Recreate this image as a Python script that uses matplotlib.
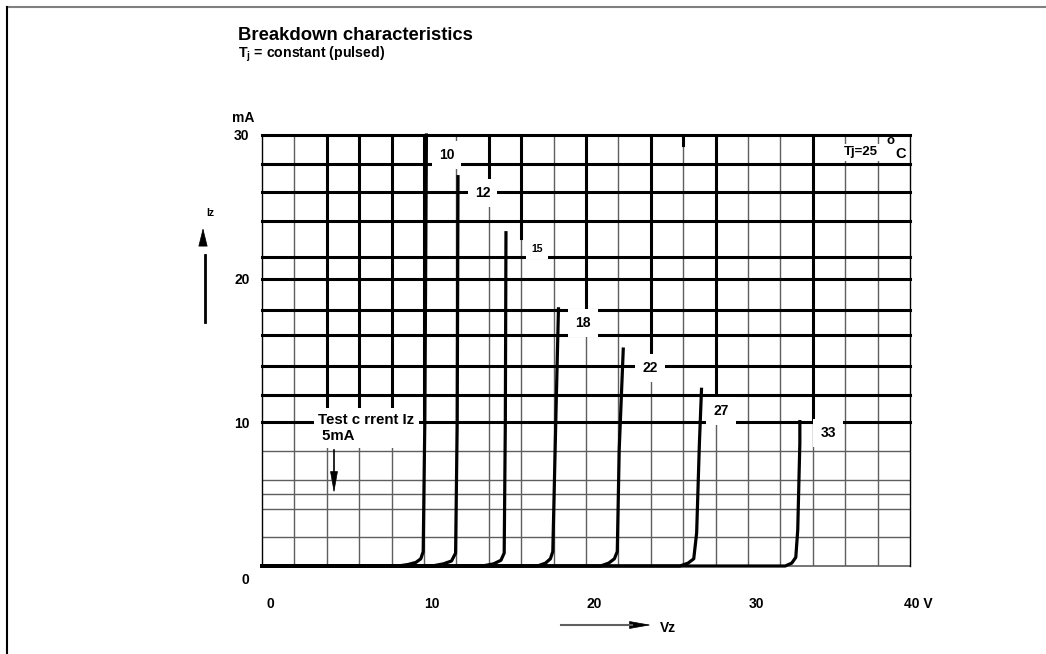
import matplotlib
matplotlib.use("Agg")
import matplotlib.pyplot as plt
from matplotlib.transforms import ScaledTranslation
from matplotlib.lines import Line2D

plt.rcParams['font.family'] = ['Liberation Sans', 'DejaVu Sans']
plt.rcParams['font.weight'] = 'bold'
plt.rcParams['mathtext.fontset'] = 'custom'
plt.rcParams['mathtext.rm'] = 'Liberation Sans:bold'
plt.rcParams['mathtext.bf'] = 'Liberation Sans:bold'

W, H = 1046, 654

# breakdown curves, Vz in volts / Iz in mA
v_10 = [0, 8.4, 9.0, 9.5, 9.8, 9.95, 10.05, 10.15]
i_10 = [0, 0, 0.1, 0.25, 0.5, 1.0, 10, 30]
v_12 = [0, 10.5, 11.2, 11.7, 11.95, 12.05, 12.1]
i_12 = [0, 0, 0.15, 0.35, 0.9, 10, 27.1]
v_15 = [0, 13.6, 14.3, 14.75, 14.95, 15.02, 15.06]
i_15 = [0, 0, 0.15, 0.4, 0.9, 10, 23.2]
v_18 = [0, 17.0, 17.5, 17.8, 17.95, 18.15, 18.3]
i_18 = [0, 0, 0.2, 0.5, 1.0, 10.8, 17.9]
v_22 = [0, 20.9, 21.4, 21.75, 21.93, 22.05, 22.3]
i_22 = [0, 0, 0.2, 0.5, 1.0, 8.1, 15.1]
v_27 = [0, 25.8, 26.3, 26.65, 26.83, 27.0, 27.13]
i_27 = [0, 0, 0.2, 0.5, 2.3, 8.55, 12.3]
v_33 = [0, 32.3, 32.7, 32.95, 33.07, 33.2, 33.2]
i_33 = [0, 0, 0.2, 0.6, 2.5, 8.55, 10.05]

curve_labels = ['10', '12', '15', '18', '22', '27', '33']
label_x = [11.4, 13.6, 16.98, 19.81, 23.95, 28.33, 34.94]
label_y = [28.6, 25.96, 22.06, 16.9, 13.78, 10.79, 9.26]

# chart paper grid
grid_v = [2, 4, 6, 8, 10, 12, 14, 16, 18, 20, 22, 24, 26, 28, 30, 32, 34, 36, 38]
thick_v = [4, 6, 8, 10, 14, 16, 20, 24, 26, 28, 34]
thick_v_low = [10, 10, 10, 10, 26.8, 22.8, 17.8, 14.5, 29.3, 12, 10]
thin_h = [2, 4, 5, 6, 8]
thick_h = [10, 11.9, 13.9, 16.1, 17.8, 20, 21.5, 24, 26, 28, 30]

x_ticks = [0, 10, 20, 30, 40]
x_labels = ['0', '10', '20', '30', '40 V']
y_ticks = [0, 10, 20, 30]

fig = plt.figure(figsize=(W / 100, H / 100), dpi=100)
ax = fig.add_axes([262 / W, 88 / H, 648 / W, 431 / H])
ax.set_xlim(0, 40)
ax.set_ylim(0, 30)
for s in ax.spines.values():
    s.set_visible(False)

thin_c = '#5e5e5e'
for x in grid_v:
    ax.plot([x, x], [0, 30], color=thin_c, lw=1.0, zorder=1)
for x, lo in zip(thick_v, thick_v_low):
    ax.plot([x, x], [lo, 30], color='black', lw=2.2, zorder=2)
for y in thin_h:
    ax.plot([0, 40], [y, y], color=thin_c, lw=1.0, zorder=1)
for y in thick_h:
    ax.plot([0, 40], [y, y], color='black', lw=2.2, zorder=2, clip_on=False)
ax.plot([0, 40], [0, 0], color=thin_c, lw=1.2, zorder=1, clip_on=False)
ax.plot([0, 0], [0, 30], color='black', lw=1.0, zorder=2, clip_on=False)
ax.plot([40, 40], [0, 30], color='black', lw=1.0, zorder=2, clip_on=False)

curves_v = [v_10, v_12, v_15, v_18, v_22, v_27, v_33]
curves_i = [i_10, i_12, i_15, i_18, i_22, i_27, i_33]
for v, i in zip(curves_v, curves_i):
    ax.plot(v, i, color='black', lw=2.3, zorder=3, clip_on=False,
            solid_joinstyle='round')

for name, x, y in zip(curve_labels, label_x, label_y):
    fs = 7.5 if name == '15' else 10
    ax.text(x, y, name, fontsize=fs, fontweight='bold', ha='center', va='center',
            zorder=5, bbox=dict(boxstyle='square,pad=0.5', fc='white', ec='none'))

ax.text(35.9, 28.8, 'Tj=25', fontsize=9.5, ha='left', va='center', zorder=5,
        bbox=dict(boxstyle='square,pad=0.2', fc='white', ec='none'))
ax.text(38.8, 29.6, 'o', fontsize=9.5, ha='center', va='center', zorder=5)
ax.text(39.4, 28.7, 'C', fontsize=10.5, ha='center', va='center', zorder=5)

ax.text(3.46, 9.6, 'Test c rrent Iz\n 5mA', fontsize=10.8, ha='left', va='center',
        linespacing=1.2, zorder=5,
        bbox=dict(boxstyle='square,pad=0.3', fc='white', ec='none'))

ax.set_xticks(x_ticks)
ax.set_xticklabels(x_labels)
ax.set_yticks(y_ticks)
ax.set_yticklabels([str(t) for t in y_ticks])
ax.tick_params(length=0, labelsize=10)
ax.tick_params(axis='x', pad=22)
ax.tick_params(axis='y', pad=9)
for lab in ax.get_xticklabels():
    lab.set_transform(lab.get_transform() + ScaledTranslation(0.08, 0, fig.dpi_scale_trans))
ylabs = ax.get_yticklabels()
ylabs[0].set_transform(ylabs[0].get_transform() + ScaledTranslation(0, -0.12, fig.dpi_scale_trans))

# titles and axis labels
fig.text(238 / W, 1 - 35 / H, 'Breakdown characteristics', fontsize=13.3, ha='left', va='center')
fig.text(238 / W, 1 - 54 / H, r'T$_{\mathbf{j}}$ = constant (pulsed)', fontsize=10.2,
         ha='left', va='center')
fig.text(232 / W, 1 - 118 / H, 'mA', fontsize=10, ha='left', va='center')
fig.text(210 / W, 1 - 213 / H, 'Iz', fontsize=7.5, ha='center', va='center')
fig.text(660 / W, 1 - 628 / H, 'Vz', fontsize=10, ha='left', va='center')

# arrows
fig.add_artist(Line2D([205 / W, 205 / W], [1 - 322 / H, 1 - 255 / H], color='black', lw=2))
ax.annotate('', xy=(203, H - 228), xytext=(203, H - 246), xycoords='figure pixels',
            textcoords='figure pixels',
            arrowprops=dict(arrowstyle='-|>,head_length=1.2,head_width=0.3',
                            color='black', lw=0.5, shrinkA=0, shrinkB=0))
fig.add_artist(Line2D([561 / W, 632 / W], [1 - 625 / H, 1 - 625 / H], color='#606060', lw=1.5))
ax.annotate('', xy=(651, H - 625), xytext=(631, H - 625), xycoords='figure pixels',
            textcoords='figure pixels',
            arrowprops=dict(arrowstyle='-|>,head_length=1.4,head_width=0.25',
                            color='black', lw=0.5, shrinkA=0, shrinkB=0))
fig.add_artist(Line2D([334 / W, 334 / W], [1 - 450 / H, 1 - 474 / H], color='black', lw=1.2))
ax.annotate('', xy=(334, H - 493), xytext=(334, H - 473), xycoords='figure pixels',
            textcoords='figure pixels',
            arrowprops=dict(arrowstyle='-|>,head_length=1.4,head_width=0.25',
                            color='black', lw=0.5, shrinkA=0, shrinkB=0))

# page frame
fig.add_artist(Line2D([7 / W, 1], [1 - 6.5 / H, 1 - 6.5 / H], color='#808080', lw=1.5))
fig.add_artist(Line2D([7 / W, 7 / W], [0, 1 - 6.5 / H], color='black', lw=1.5))

fig.savefig('out.png', dpi=100)
